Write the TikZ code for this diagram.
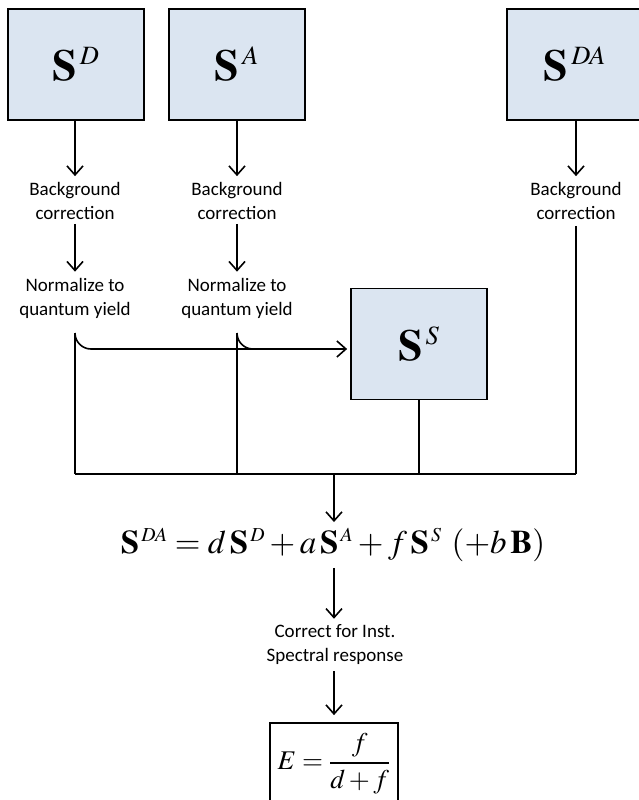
\documentclass[tikz,border=0pt]{standalone}
\usepackage{mathptmx}
\usepackage[no-math]{fontspec}
\newfontfamily\labfont{Carlito}
\usetikzlibrary{arrows.meta}
\definecolor{boxblue}{RGB}{219,229,241}
\begin{document}
\begin{tikzpicture}[x=1pt,y=-1pt,
  box/.style={draw=black, line width=1.8pt, fill=boxblue, minimum width=136pt, minimum height=111pt, inner sep=0pt, font=\fontsize{44}{48}\selectfont},
  lbl/.style={font=\labfont\fontsize{19}{24}\selectfont, align=center, inner sep=0pt},
  ln/.style={line width=1.6pt},
  arr/.style={line width=1.6pt, -{Straight Barb[length=9pt,width=16pt]}},
  formula/.style={inner sep=0pt, font=\fontsize{33}{40}\selectfont},
  ebox/.style={draw=black, line width=1.8pt, minimum width=128pt, minimum height=100pt, inner sep=0pt, font=\fontsize{27}{32}\selectfont}
]
\useasboundingbox (0,0) rectangle (639,800);

% source boxes
\node[box] (sd) at (76,64.5) {$\mathbf{S}^{\scriptscriptstyle\,D}$};
\node[box] (sa) at (237,64.5) {$\mathbf{S}^{\scriptscriptstyle\,A}$};
\node[box] (sda) at (575,64.5) {$\mathbf{S}^{\scriptscriptstyle\,DA}$};
\node[box] (ss) at (419,344) {$\mathbf{S}^{\scriptscriptstyle\,S}$};

% labels
\node[lbl] (bg1) at (75,201) {Background\\correction};
\node[lbl] (bg2) at (237,201) {Background\\correction};
\node[lbl] (bg3) at (576,201) {Background\\correction};
\node[lbl] (nq1) at (75,298) {Normalize to\\quantum yield};
\node[lbl] (nq2) at (237,298) {Normalize to\\quantum yield};

% arrows down the columns
\draw[arr, shorten >=6pt] (sd.south -| bg1) -- (bg1.north);
\draw[arr, shorten >=6pt] (sa.south -| bg2) -- (bg2.north);
\draw[arr, shorten >=6pt] (sda.south -| bg3) -- (bg3.north);
\draw[arr, shorten <=4pt, shorten >=6pt] (bg1.south) -- (nq1.north);
\draw[arr, shorten <=4pt, shorten >=6pt] (bg2.south) -- (nq2.north);

% collecting lines
\coordinate (j1) at (75,474);
\coordinate (j2) at (237,474);
\coordinate (j3) at (419,474);
\coordinate (j4) at (576,474);
\coordinate (jm) at (334,474);
\coordinate (t1) at (75,333);
\coordinate (t2) at (237,333);

\draw[ln] (t1) -- (j1);
\draw[ln] (t2) -- (j2);
\draw[ln] (ss.south) -- (j3);
\draw[ln, shorten <=6pt] (bg3.south) -- (j4);
\draw[ln] (j1) -- (j4);

% bumps and arrow to S^S
\draw[ln] (t1) arc[start angle=180, end angle=90, radius=16] coordinate (h1);
\draw[ln] (t2) arc[start angle=180, end angle=90, radius=16];
\draw[arr, shorten >=3pt] (h1) -- (h1 -| ss.west);

% formula
\node[formula] (eq) at (333,545) {$\mathbf{S}^{\scriptscriptstyle\,DA} = d\,\mathbf{S}^{\scriptscriptstyle\,D} + a\,\mathbf{S}^{\scriptscriptstyle\,A} + f\,\mathbf{S}^{\scriptscriptstyle\,S}\ (+b\,\mathbf{B})$};
\draw[arr, shorten >=6pt] (jm) -- (eq.north -| jm);

\node[lbl] (corr) at (335,645) {Correct for Inst.\\Spectral response};
\draw[arr, shorten <=6pt, shorten >=6pt] (eq.south -| jm) -- (corr.north -| jm);

\node[ebox] (e) at (334,773) {\raisebox{43pt}{$\displaystyle E=\frac{f}{d+f}$}};
\draw[arr, shorten <=6pt, shorten >=7pt] (corr.south -| jm) -- (e.north -| jm);
\end{tikzpicture}
\end{document}
